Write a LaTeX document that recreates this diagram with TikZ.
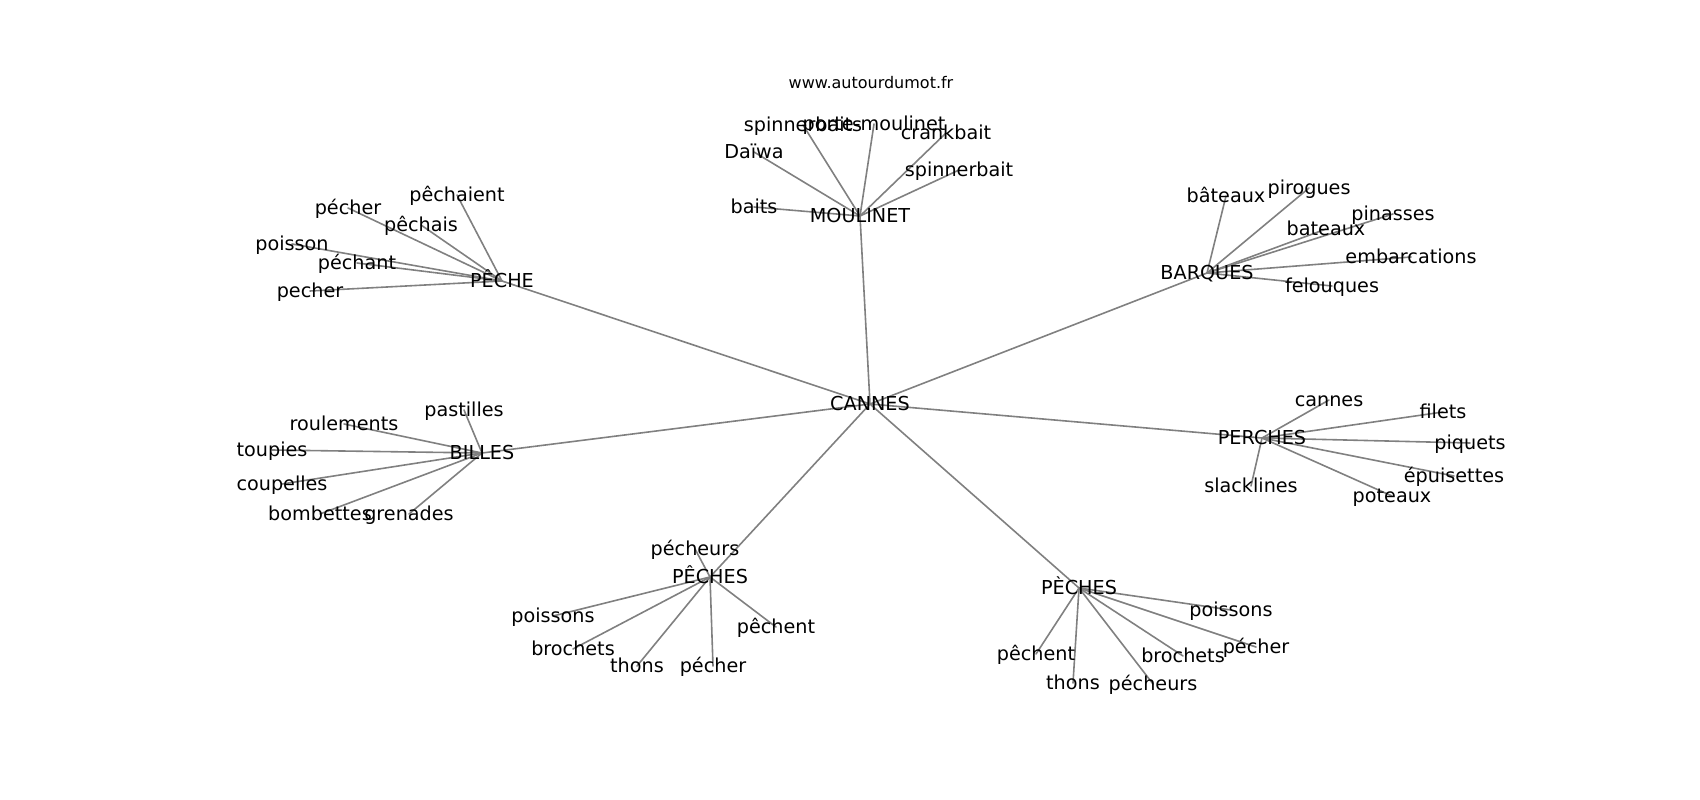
\documentclass[tikz,border=0pt]{standalone}
\usepackage{fontspec}
\setmainfont{DejaVu Sans}
\usetikzlibrary{backgrounds}
\tikzset{
	word/.style={inner sep=0pt, text height=9.1pt, text depth=1.2pt, font=\fontsize{12}{14}\selectfont},
	edge/.style={gray, line width=1pt, line cap=round}
}
\begin{document}
\begin{tikzpicture}[x=0.625pt, y=-0.625pt]
		\useasboundingbox (0,0) rectangle (1700,800);
		\node[font=\fontsize{10}{12}\selectfont] (title) at (871,83) {www.autourdumot.fr};
		% the hubs
		\node[word] (cannes) at (870,404) {CANNES};
		\node[word] (moulinet) at (860,216) {MOULINET};
		\node[word] (peche) at (502,281) {PÊCHE};
		\node[word] (barques) at (1207,273) {BARQUES};
		\node[word] (billes) at (482,453) {BILLES};
		\node[word] (perches) at (1262,438) {PERCHES};
		\node[word] (pechesA) at (710,577) {PÊCHES};
		\node[word] (pechesB) at (1079,588) {PÈCHES};
		\foreach \h in {moulinet, peche, barques, billes, perches, pechesA, pechesB}
		{
			\scoped[on background layer] \draw[edge] (cannes.center)--(\h.center);
		}
		% the leaves
		\foreach \t/\x/\y [count=\i] in {baits/754/207, Daïwa/754/152, spinnerbaits/803/125, porte-moulinet/874/124, crankbait/946/133, spinnerbait/959/170}
		{
			\node[word] (mo\i) at (\x,\y) {\t};
			\scoped[on background layer] \draw[edge] (moulinet.center)--(mo\i.center);
		}
		\foreach \t/\x/\y [count=\i] in {pêchaient/457/195, pécher/348/208, pêchais/421/225, poisson/292/244, péchant/357/263, pecher/310/291}
		{
			\node[word] (pe\i) at (\x,\y) {\t};
			\scoped[on background layer] \draw[edge] (peche.center)--(pe\i.center);
		}
		\foreach \t/\x/\y [count=\i] in {bâteaux/1226/196, pirogues/1309/188, pinasses/1393/214, bateaux/1326/229, embarcations/1411/257, felouques/1332/286}
		{
			\node[word] (ba\i) at (\x,\y) {\t};
			\scoped[on background layer] \draw[edge] (barques.center)--(ba\i.center);
		}
		\foreach \t/\x/\y [count=\i] in {cannes/1329/400, filets/1443/412, piquets/1470/443, épuisettes/1454/476, poteaux/1392/496, slacklines/1251/486}
		{
			\node[word] (pr\i) at (\x,\y) {\t};
			\scoped[on background layer] \draw[edge] (perches.center)--(pr\i.center);
		}
		\foreach \t/\x/\y [count=\i] in {pastilles/464/410, roulements/344/424, toupies/272/450, coupelles/282/484, bombettes/320/514, grenades/409/514}
		{
			\node[word] (bi\i) at (\x,\y) {\t};
			\scoped[on background layer] \draw[edge] (billes.center)--(bi\i.center);
		}
		\foreach \t/\x/\y [count=\i] in {pécheurs/695/549, poissons/553/616, pêchent/776/627, brochets/573/649, thons/637/666, pécher/713/666}
		{
			\node[word] (pa\i) at (\x,\y) {\t};
			\scoped[on background layer] \draw[edge] (pechesA.center)--(pa\i.center);
		}
		\foreach \t/\x/\y [count=\i] in {poissons/1231/610, pécher/1256/647, brochets/1183/656, pêchent/1036/654, thons/1073/683, pécheurs/1153/684}
		{
			\node[word] (pb\i) at (\x,\y) {\t};
			\scoped[on background layer] \draw[edge] (pechesB.center)--(pb\i.center);
		}
\end{tikzpicture}
\end{document}
